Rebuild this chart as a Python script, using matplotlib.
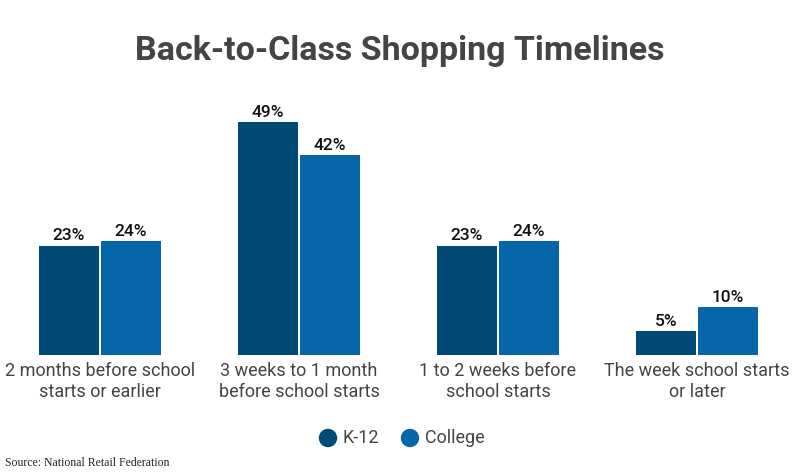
import matplotlib
matplotlib.use("Agg")
import matplotlib.pyplot as plt
import numpy as np

categories = ["2 months before school\nstarts or earlier",
              "3 weeks to 1 month\nbefore school starts",
              "1 to 2 weeks before\nschool starts",
              "The week school starts\nor later"]
k12 = [23, 49, 23, 5]
college = [24, 42, 24, 10]

c_k12 = "#004a76"
c_college = "#0567a9"
grey = "#444444"

plt.rcParams['font.family'] = ['Roboto', 'DejaVu Sans']

fig = plt.figure(figsize=(8, 4.75), dpi=100)
ax = fig.add_axes([0.0006, 0.2526, 0.995, 0.5506])

x = np.arange(len(categories))
w = 0.3015
off = 0.1558
b1 = ax.bar(x - off, k12, w, color=c_k12, linewidth=0)
b2 = ax.bar(x + off, college, w, color=c_college, linewidth=0)

for bars, vals in ((b1, k12), (b2, college)):
    for b, v in zip(bars, vals):
        ax.text(b.get_x() + b.get_width() / 2, v + 0.5, f"{v}%",
                ha="center", va="bottom", fontsize=12.5, fontweight="medium",
                color="#111111")

ax.set_xlim(-0.5, 3.5)
ax.set_ylim(0, 55)
ax.set_xticks(x)
ax.set_xticklabels(categories, fontsize=13, color=grey, linespacing=1.2)
ax.tick_params(axis="x", length=0, pad=5)
ax.set_yticks([])
for s in ax.spines.values():
    s.set_visible(False)

fig.text(0.5, 0.893, "Back-to-Class Shopping Timelines", ha="center", va="center",
         fontsize=24.5, fontweight="bold", color=grey)

# legend
fig.patches.append(matplotlib.patches.Circle((328, 475 - 438), 8.5, color=c_k12,
                                             transform=None))
fig.patches.append(matplotlib.patches.Circle((410, 475 - 438), 8.5, color=c_college,
                                             transform=None))
fig.text(343 / 800, 1 - 438 / 475, "K-12", ha="left", va="center", fontsize=13, color=grey)
fig.text(425 / 800, 1 - 438 / 475, "College", ha="left", va="center", fontsize=13, color=grey)

fig.text(5 / 800, 1 - 463 / 475, "Source: National Retail Federation", ha="left", va="center",
         fontsize=8.5, color="#222222", family=["Liberation Serif"])

fig.savefig("out.png", dpi=100)
